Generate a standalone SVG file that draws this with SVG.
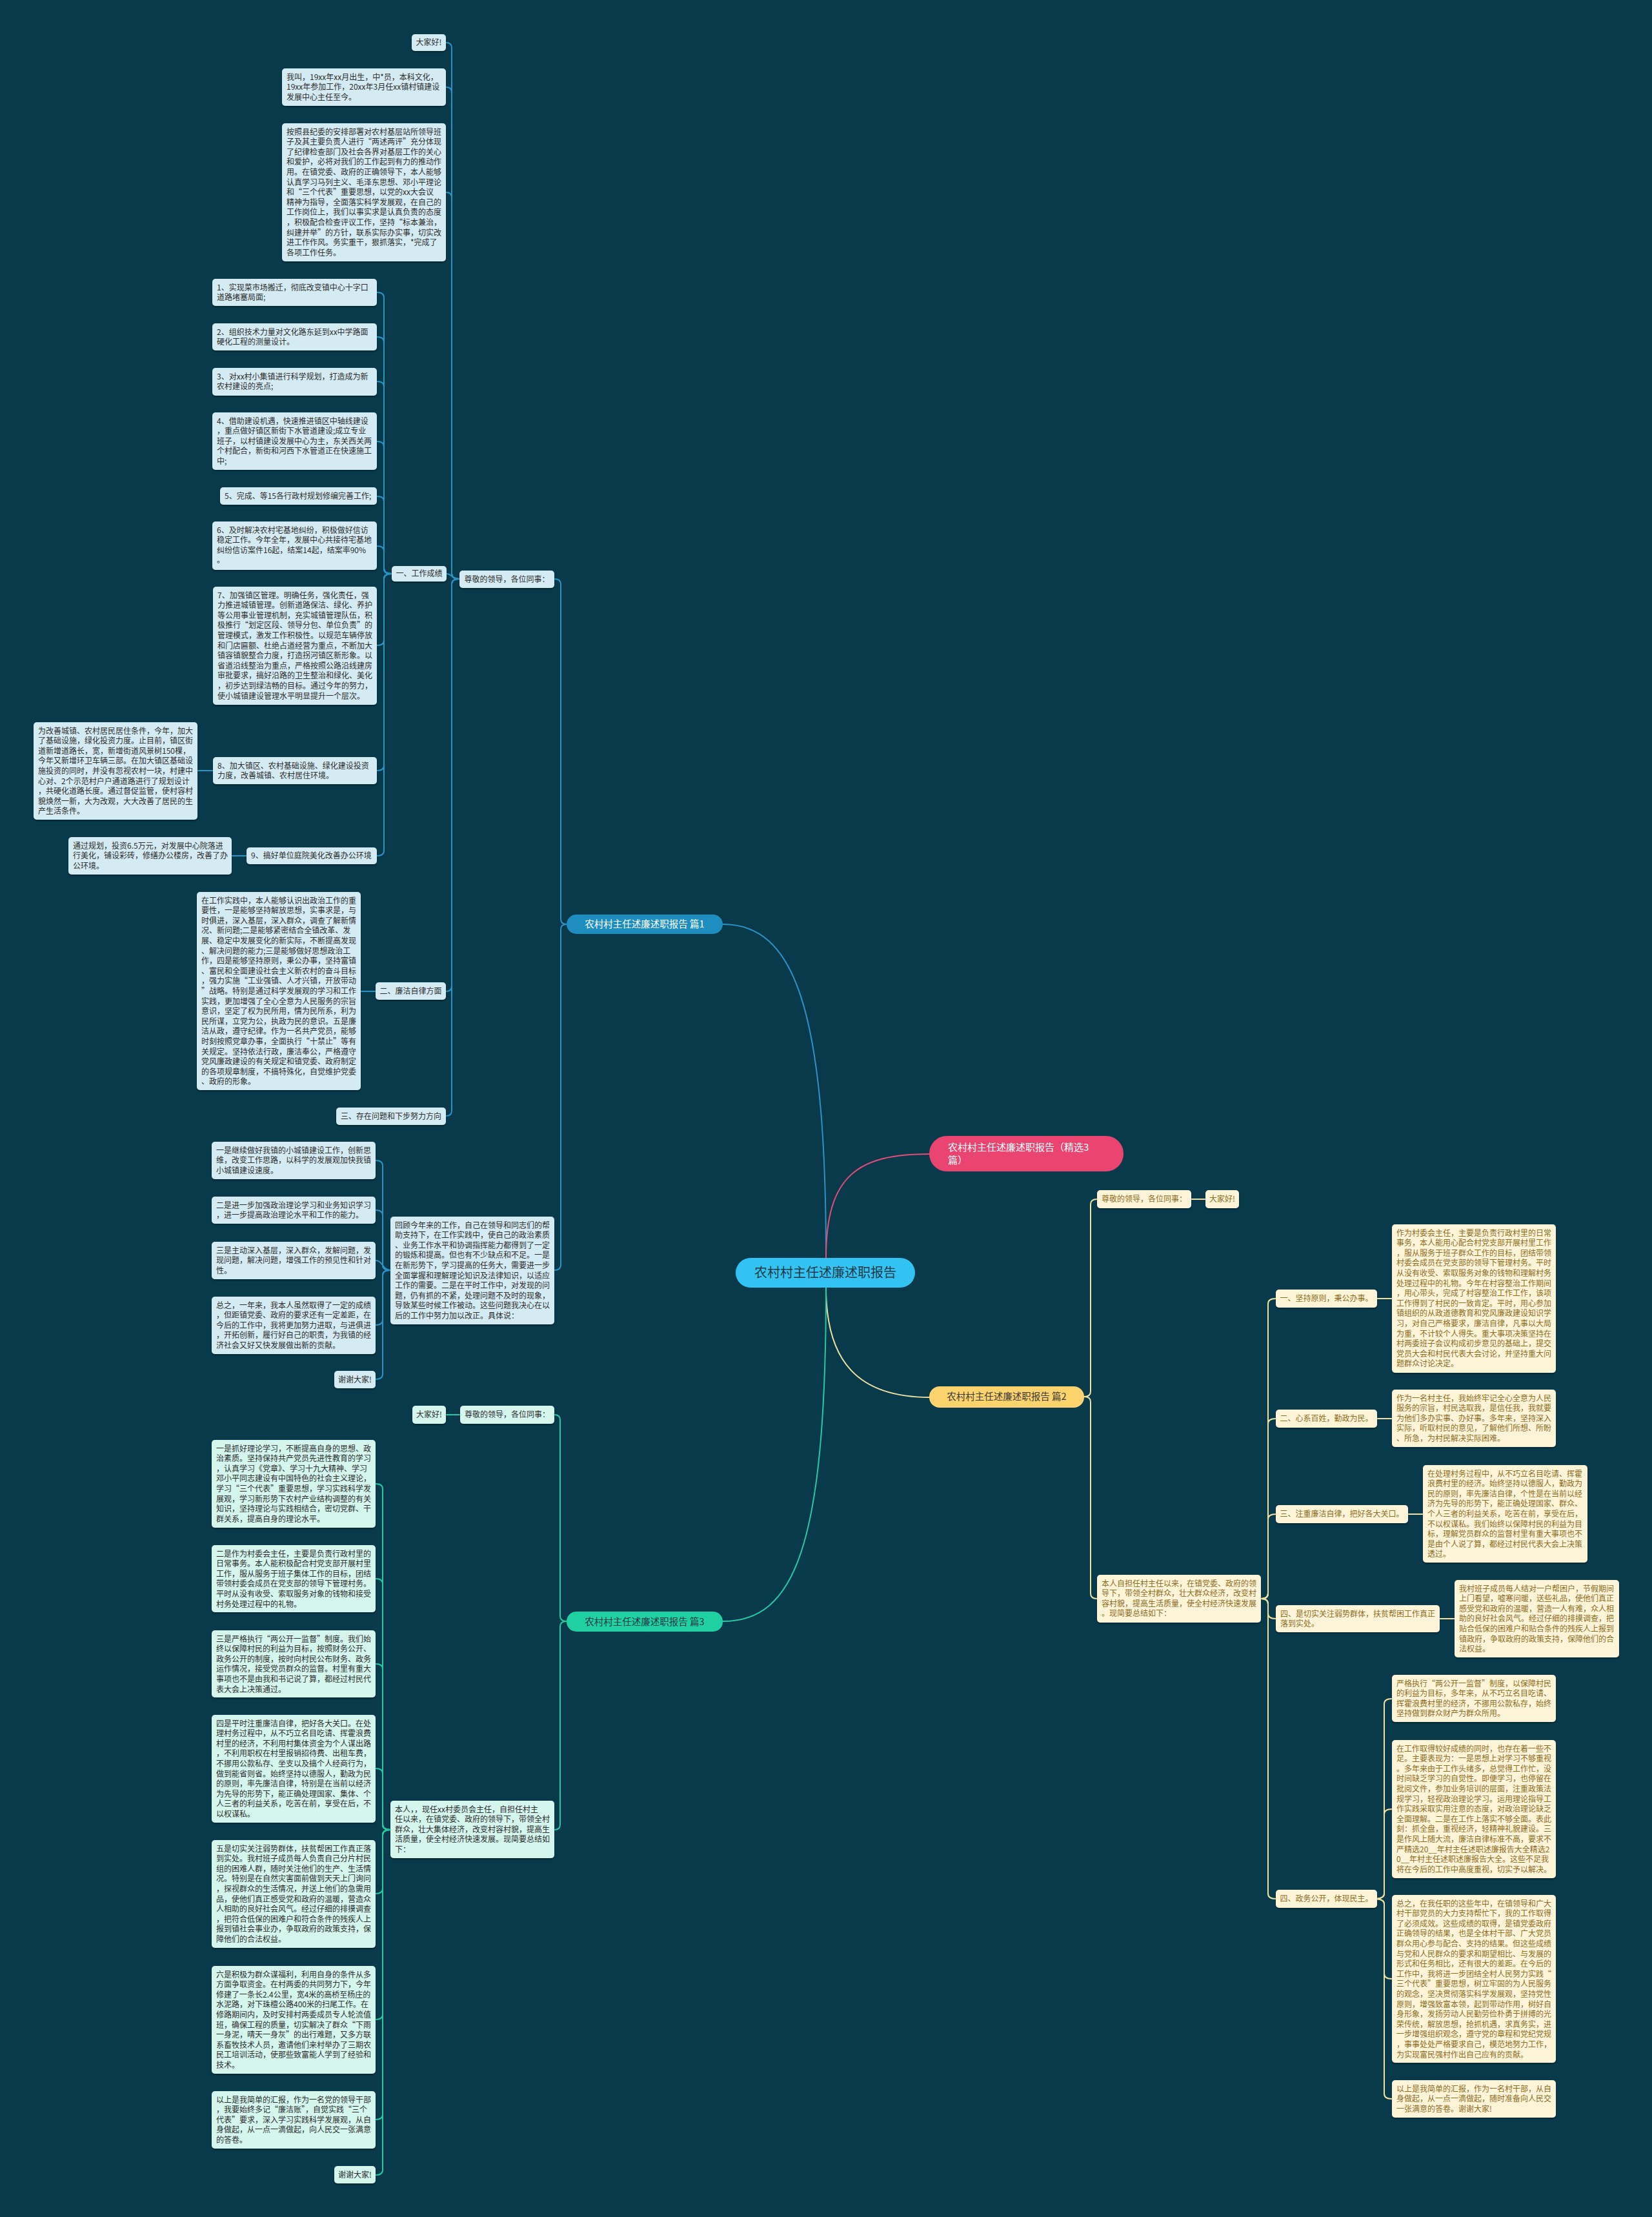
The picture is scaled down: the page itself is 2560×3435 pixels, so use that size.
<svg xmlns="http://www.w3.org/2000/svg" width="2560" height="3435" viewBox="0 0 2560 3435">
<defs>
<filter id="sh" x="-5%" y="-5%" width="110%" height="120%"><feDropShadow dx="0" dy="2" stdDeviation="1" flood-color="#000" flood-opacity="0.35"/></filter>
<style>
.r1{fill:#d5ebf3;filter:url(#sh)}
.r2{fill:#fef4d8;filter:url(#sh)}
.r3{fill:#d4f6ed;filter:url(#sh)}
text{font-family:"Noto Sans CJK SC","Noto Sans",sans-serif;font-size:12px}
.t1{fill:#2d2d2d}
.t2{fill:#8e6c1e}
.t3{fill:#2d2d2d}
.m{text-anchor:middle}
.c1{fill:none;stroke:#2a93c5;stroke-width:2}
.c2{fill:none;stroke:#efe2a0;stroke-width:2}
.c3{fill:none;stroke:#24c9a2;stroke-width:2}
.cp{fill:none;stroke:#e44d78;stroke-width:2}
</style>
</defs>
<rect x="0" y="0" width="2560" height="3435" fill="#083a4c"/>

<g id="connectors">
<path class="c1" d="M1280 1949 C1280 1560 1230 1432 1120 1432"/>
<path class="cp" d="M1280 1949 C1280 1820 1330 1788 1441 1788"/>
<path class="c2" d="M1280 1995 C1280 2110 1330 2165 1441 2165"/>
<path class="c3" d="M1280 1995 C1280 2400 1230 2512 1120 2512"/>

<path class="c1" d="M878 1432 Q869 1432 869 1424 V905 Q869 897 859 897"/>
<path class="c1" d="M878 1432 Q869 1432 869 1440 V1960 Q869 1968 859 1968"/>
<path class="c1" d="M712 897 Q700 897 700 889 V74 Q700 66 691 66"/>
<path class="c1" d="M712 897 Q700 897 700 889 V143 Q700 135 691 135"/>
<path class="c1" d="M712 897 Q700 897 700 889 V306 Q700 298 691 298"/>
<path class="c1" d="M712 897 C700 897 700 889 692 889"/>
<path class="c1" d="M712 897 Q700 897 700 905 V1528 Q700 1536 691 1536"/>
<path class="c1" d="M712 897 Q700 897 700 905 V1721 Q700 1729 691 1729"/>
<path class="c1" d="M607 889 Q595 889 595 881 V461 Q595 453 584 453"/>
<path class="c1" d="M607 889 Q595 889 595 881 V530 Q595 522 584 522"/>
<path class="c1" d="M607 889 Q595 889 595 881 V599 Q595 591 584 591"/>
<path class="c1" d="M607 889 Q595 889 595 881 V692 Q595 684 584 684"/>
<path class="c1" d="M607 889 Q595 889 595 881 V777 Q595 769 584 769"/>
<path class="c1" d="M607 889 Q595 889 595 881 V854 Q595 846 584 846"/>
<path class="c1" d="M607 889 Q595 889 595 897 V992 Q595 1000 584 1000"/>
<path class="c1" d="M607 889 Q595 889 595 897 V1186 Q595 1194 584 1194"/>
<path class="c1" d="M607 889 Q595 889 595 897 V1318 Q595 1326 584 1326"/>
<path class="c1" d="M330 1194 H306"/>
<path class="c1" d="M382 1326 H359"/>
<path class="c1" d="M582 1536 H559"/>
<path class="c1" d="M605 1968 Q593 1968 593 1960 V1806 Q593 1798 582 1798"/>
<path class="c1" d="M605 1968 Q593 1968 593 1960 V1883 Q593 1875 582 1875"/>
<path class="c1" d="M605 1968 C593 1968 593 1953 582 1953"/>
<path class="c1" d="M605 1968 Q593 1968 593 1976 V2045 Q593 2053 582 2053"/>
<path class="c1" d="M605 1968 Q593 1968 593 1976 V2129 Q593 2137 582 2137"/>

<path class="c2" d="M1680 2164 Q1690 2164 1690 2156 V1866 Q1690 1858 1700 1858"/>
<path class="c2" d="M1680 2164 Q1690 2164 1690 2172 V2469 Q1690 2477 1700 2477"/>
<path class="c2" d="M1846 1858 H1868"/>
<path class="c2" d="M1954 2477 Q1965 2477 1965 2469 V2020 Q1965 2012 1977 2012"/>
<path class="c2" d="M1954 2477 Q1965 2477 1965 2469 V2206 Q1965 2198 1977 2198"/>
<path class="c2" d="M1954 2477 Q1965 2477 1965 2469 V2354 Q1965 2346 1977 2346"/>
<path class="c2" d="M1954 2477 Q1965 2477 1965 2485 V2500 Q1965 2508 1977 2508"/>
<path class="c2" d="M1954 2477 Q1965 2477 1965 2485 V2934 Q1965 2942 1977 2942"/>
<path class="c2" d="M2134 2012 H2157"/>
<path class="c2" d="M2134 2198 H2157"/>
<path class="c2" d="M2182 2346 H2205"/>
<path class="c2" d="M2231 2508 H2254"/>
<path class="c2" d="M2129 2942 Q2145 2942 2145 2934 V2640 Q2145 2632 2157 2632"/>
<path class="c2" d="M2129 2942 Q2145 2942 2145 2934 V2811 Q2145 2803 2157 2803"/>
<path class="c2" d="M2129 2942 Q2145 2942 2145 2950 V3058 Q2145 3066 2157 3066"/>
<path class="c2" d="M2129 2942 Q2145 2942 2145 2950 V3244 Q2145 3252 2157 3252"/>

<path class="c3" d="M878 2512 Q868 2512 868 2504 V2200 Q868 2192 859 2192"/>
<path class="c3" d="M878 2512 Q868 2512 868 2520 V2827 Q868 2835 859 2835"/>
<path class="c3" d="M713 2192 H691"/>
<path class="c3" d="M605 2835 Q593 2835 593 2827 V2307 Q593 2299 582 2299"/>
<path class="c3" d="M605 2835 Q593 2835 593 2827 V2454 Q593 2446 582 2446"/>
<path class="c3" d="M605 2835 Q593 2835 593 2827 V2586 Q593 2578 582 2578"/>
<path class="c3" d="M605 2835 Q593 2835 593 2827 V2748 Q593 2740 582 2740"/>
<path class="c3" d="M605 2835 Q593 2835 593 2843 V2926 Q593 2934 582 2934"/>
<path class="c3" d="M605 2835 Q593 2835 593 2843 V3121 Q593 3129 582 3129"/>
<path class="c3" d="M605 2835 Q593 2835 593 2843 V3276 Q593 3284 582 3284"/>
<path class="c3" d="M605 2835 Q593 2835 593 2843 V3362 Q593 3370 582 3370"/>
</g>

<g id="root">
<rect x="1140" y="1949" width="278" height="46" rx="23" fill="#32c3f2"/>
<text class="m" x="1279" y="1979" style="font-size:20px;fill:#1d3a48">农村村主任述廉述职报告</text>
</g>
<g id="b0">
<rect x="1440" y="1760" width="301" height="55" rx="27" fill="#ea4470"/>
<text x="1469" y="1782.5" style="font-size:15px;fill:#ffffff"><tspan x="1469" dy="0">农村村主任述廉述职报告（精选3</tspan><tspan x="1469" dy="20">篇）</tspan></text>
</g>
<g id="b1">
<rect x="878" y="1417" width="242" height="30" rx="15" fill="#1e8ec0"/>
<text class="m" x="999" y="1437" style="font-size:14.5px;fill:#ffffff">农村村主任述廉述职报告 篇1</text>
</g>
<g id="b2">
<rect x="1440" y="2148" width="240" height="33" rx="16" fill="#fcd36c"/>
<text class="m" x="1560" y="2169" style="font-size:14.5px;fill:#3a3a3a">农村村主任述廉述职报告 篇2</text>
</g>
<g id="b3">
<rect x="878" y="2497" width="242" height="31" rx="15" fill="#1fd1a1"/>
<text class="m" x="999" y="2517.5" style="font-size:14.5px;fill:#1d3a48">农村村主任述廉述职报告 篇3</text>
</g>

<g id="n1-dajia"><rect class="r1" x="638" y="53" width="53" height="26" rx="5"/><text class="t1 m" x="664.5" y="70.3">大家好!</text></g>
<g id="n1-wojiao"><rect class="r1" x="437" y="106" width="254" height="58" rx="5"/><text class="t1" x="444" y="123.6"><tspan x="444" dy="0">我叫，19xx年xx月出生，中*员，本科文化，</tspan><tspan x="444" dy="15.6">19xx年参加工作，20xx年3月任xx镇村镇建设</tspan><tspan x="444" dy="15.6">发展中心主任至今。</tspan></text></g>
<g id="n1-anzhao"><rect class="r1" x="437" y="191" width="254" height="214" rx="5"/><text class="t1" x="444" y="208.6"><tspan x="444" dy="0">按照县纪委的安排部署对农村基层站所领导班</tspan><tspan x="444" dy="15.6">子及其主要负责人进行“两述两评”充分体现</tspan><tspan x="444" dy="15.6">了纪律检查部门及社会各界对基层工作的关心</tspan><tspan x="444" dy="15.6">和爱护，必将对我们的工作起到有力的推动作</tspan><tspan x="444" dy="15.6">用。在镇党委、政府的正确领导下，本人能够</tspan><tspan x="444" dy="15.6">认真学习马列主义、毛泽东思想、邓小平理论</tspan><tspan x="444" dy="15.6">和“三个代表”重要思想，以党的xx大会议</tspan><tspan x="444" dy="15.6">精神为指导，全面落实科学发展观，在自己的</tspan><tspan x="444" dy="15.6">工作岗位上，我们以事实求是认真负责的态度</tspan><tspan x="444" dy="15.6">，积极配合检查评议工作，坚持“标本兼治，</tspan><tspan x="444" dy="15.6">纠建并举”的方针，联系实际办实事，切实改</tspan><tspan x="444" dy="15.6">进工作作风。务实重干，狠抓落实，*完成了</tspan><tspan x="444" dy="15.6">各项工作任务。</tspan></text></g>
<g id="n1-zunjing"><rect class="r1" x="712" y="884" width="147" height="27" rx="5"/><text class="t1 m" x="785.5" y="901.8">尊敬的领导，各位同事：</text></g>
<g id="n1-yi"><rect class="r1" x="607" y="877" width="85" height="24" rx="5"/><text class="t1 m" x="649.5" y="893.3">一、工作成绩</text></g>
<g id="n1-i1"><rect class="r1" x="329" y="432" width="255" height="42" rx="5"/><text class="t1" x="336" y="449.6"><tspan x="336" dy="0">1、实现菜市场搬迁，彻底改变镇中心十字口</tspan><tspan x="336" dy="15.6">道路堵塞局面;</tspan></text></g>
<g id="n1-i2"><rect class="r1" x="329" y="501" width="255" height="42" rx="5"/><text class="t1" x="336" y="518.6"><tspan x="336" dy="0">2、组织技术力量对文化路东延到xx中学路面</tspan><tspan x="336" dy="15.6">硬化工程的测量设计。</tspan></text></g>
<g id="n1-i3"><rect class="r1" x="329" y="570" width="255" height="43" rx="5"/><text class="t1" x="336" y="587.6"><tspan x="336" dy="0">3、对xx村小集镇进行科学规划，打造成为新</tspan><tspan x="336" dy="15.6">农村建设的亮点;</tspan></text></g>
<g id="n1-i4"><rect class="r1" x="329" y="639" width="255" height="89" rx="5"/><text class="t1" x="336" y="656.6"><tspan x="336" dy="0">4、借助建设机遇，快速推进镇区中轴线建设</tspan><tspan x="336" dy="15.6">，重点做好镇区新街下水管道建设;成立专业</tspan><tspan x="336" dy="15.6">班子，以村镇建设发展中心为主，东关西关两</tspan><tspan x="336" dy="15.6">个村配合，新街和河西下水管道正在快速施工</tspan><tspan x="336" dy="15.6">中;</tspan></text></g>
<g id="n1-i5"><rect class="r1" x="341" y="755" width="243" height="27" rx="5"/><text class="t1" x="348" y="773.3">5、完成、等15各行政村规划修编完善工作;</text></g>
<g id="n1-i6"><rect class="r1" x="329" y="808" width="255" height="75" rx="5"/><text class="t1" x="336" y="825.6"><tspan x="336" dy="0">6、及时解决农村宅基地纠纷，积极做好信访</tspan><tspan x="336" dy="15.6">稳定工作。今年全年，发展中心共接待宅基地</tspan><tspan x="336" dy="15.6">纠纷信访案件16起，结案14起，结案率90%</tspan><tspan x="336" dy="15.6">。</tspan></text></g>
<g id="n1-i7"><rect class="r1" x="330" y="909" width="254" height="183" rx="5"/><text class="t1" x="337" y="926.6"><tspan x="337" dy="0">7、加强镇区管理。明确任务，强化责任，强</tspan><tspan x="337" dy="15.6">力推进城镇管理。创新道路保洁、绿化、养护</tspan><tspan x="337" dy="15.6">等公用事业管理机制，充实城镇管理队伍，积</tspan><tspan x="337" dy="15.6">极推行“划定区段、领导分包、单位负责”的</tspan><tspan x="337" dy="15.6">管理模式，激发工作积极性。以规范车辆停放</tspan><tspan x="337" dy="15.6">和门店匾额、杜绝占道经营为重点，不断加大</tspan><tspan x="337" dy="15.6">镇容镇貌整合力度，打造拐河镇区新形象。以</tspan><tspan x="337" dy="15.6">省道沿线整治为重点，严格按照公路沿线建房</tspan><tspan x="337" dy="15.6">审批要求，搞好沿路的卫生整治和绿化、美化</tspan><tspan x="337" dy="15.6">，初步达到绿洁畅的目标。通过今年的努力，</tspan><tspan x="337" dy="15.6">使小城镇建设管理水平明显提升一个层次。</tspan></text></g>
<g id="n1-i8"><rect class="r1" x="330" y="1173" width="254" height="42" rx="5"/><text class="t1" x="337" y="1190.6"><tspan x="337" dy="0">8、加大镇区、农村基础设施、绿化建设投资</tspan><tspan x="337" dy="15.6">力度，改善城镇、农村居住环境。</tspan></text></g>
<g id="n1-i8d"><rect class="r1" x="52" y="1119" width="254" height="151" rx="5"/><text class="t1" x="59" y="1136.6"><tspan x="59" dy="0">为改善城镇、农村居民居住条件，今年，加大</tspan><tspan x="59" dy="15.6">了基础设施，绿化投资力度。止目前，镇区街</tspan><tspan x="59" dy="15.6">道新增道路长，宽，新增街道风景树150棵，</tspan><tspan x="59" dy="15.6">今年又新增环卫车辆三部。在加大镇区基础设</tspan><tspan x="59" dy="15.6">施投资的同时，并没有忽视农村一块，村建中</tspan><tspan x="59" dy="15.6">心对、2个示范村户户通道路进行了规划设计</tspan><tspan x="59" dy="15.6">，共硬化道路长度。通过督促监管，使村容村</tspan><tspan x="59" dy="15.6">貌焕然一新，大为改观，大大改善了居民的生</tspan><tspan x="59" dy="15.6">产生活条件。</tspan></text></g>
<g id="n1-i9"><rect class="r1" x="382" y="1313" width="202" height="26" rx="5"/><text class="t1" x="389" y="1330.3">9、搞好单位庭院美化改善办公环境</text></g>
<g id="n1-i9d"><rect class="r1" x="106" y="1297" width="253" height="58" rx="5"/><text class="t1" x="113" y="1314.6"><tspan x="113" dy="0">通过规划，投资6.5万元，对发展中心院落进</tspan><tspan x="113" dy="15.6">行美化，铺设彩砖，修缮办公楼房，改善了办</tspan><tspan x="113" dy="15.6">公环境。</tspan></text></g>
<g id="n1-er"><rect class="r1" x="582" y="1522" width="109" height="27" rx="5"/><text class="t1 m" x="636.5" y="1539.8">二、廉洁自律方面</text></g>
<g id="n1-erd"><rect class="r1" x="305" y="1382" width="254" height="307" rx="5"/><text class="t1" x="312" y="1399.6"><tspan x="312" dy="0">在工作实践中，本人能够认识出政治工作的重</tspan><tspan x="312" dy="15.6">要性，一是能够坚持解放思想，实事求是，与</tspan><tspan x="312" dy="15.6">时俱进，深入基层，深入群众，调查了解新情</tspan><tspan x="312" dy="15.6">况、新问题;二是能够紧密结合全镇改革、发</tspan><tspan x="312" dy="15.6">展、稳定中发展变化的新实际，不断提高发现</tspan><tspan x="312" dy="15.6">、解决问题的能力;三是能够做好思想政治工</tspan><tspan x="312" dy="15.6">作，四是能够坚持原则，秉公办事，坚持富镇</tspan><tspan x="312" dy="15.6">、富民和全面建设社会主义新农村的奋斗目标</tspan><tspan x="312" dy="15.6">，强力实施“工业强镇、人才兴镇，开放带动</tspan><tspan x="312" dy="15.6">”战略。特别是通过科学发展观的学习和工作</tspan><tspan x="312" dy="15.6">实践，更加增强了全心全意为人民服务的宗旨</tspan><tspan x="312" dy="15.6">意识，坚定了权为民所用，情为民所系，利为</tspan><tspan x="312" dy="15.6">民所谋，立党为公，执政为民的意识。五是廉</tspan><tspan x="312" dy="15.6">洁从政，遵守纪律。作为一名共产党员，能够</tspan><tspan x="312" dy="15.6">时刻按照党章办事，全面执行“十禁止”等有</tspan><tspan x="312" dy="15.6">关规定。坚持依法行政，廉洁奉公，严格遵守</tspan><tspan x="312" dy="15.6">党风廉政建设的有关规定和镇党委、政府制定</tspan><tspan x="312" dy="15.6">的各项规章制度，不搞特殊化，自觉维护党委</tspan><tspan x="312" dy="15.6">、政府的形象。</tspan></text></g>
<g id="n1-san"><rect class="r1" x="521" y="1716" width="170" height="27" rx="5"/><text class="t1 m" x="606" y="1733.8">三、存在问题和下步努力方向</text></g>
<g id="n1-huigu"><rect class="r1" x="605" y="1885" width="254" height="167" rx="5"/><text class="t1" x="612" y="1902.6"><tspan x="612" dy="0">回顾今年来的工作，自己在领导和同志们的帮</tspan><tspan x="612" dy="15.6">助支持下，在工作实践中，使自己的政治素质</tspan><tspan x="612" dy="15.6">、业务工作水平和协调指挥能力都得到了一定</tspan><tspan x="612" dy="15.6">的锻炼和提高。但也有不少缺点和不足。一是</tspan><tspan x="612" dy="15.6">在新形势下，学习提高的任务大，需要进一步</tspan><tspan x="612" dy="15.6">全面掌握和理解理论知识及法律知识，以适应</tspan><tspan x="612" dy="15.6">工作的需要。二是在平时工作中，对发现的问</tspan><tspan x="612" dy="15.6">题，仍有抓的不紧，处理问题不及时的现象，</tspan><tspan x="612" dy="15.6">导致某些时候工作被动。这些问题我决心在以</tspan><tspan x="612" dy="15.6">后的工作中努力加以改正。具体说：</tspan></text></g>
<g id="n1-h1"><rect class="r1" x="328" y="1769" width="254" height="58" rx="5"/><text class="t1" x="335" y="1786.6"><tspan x="335" dy="0">一是继续做好我镇的小城镇建设工作，创新思</tspan><tspan x="335" dy="15.6">维，改变工作思路，以科学的发展观加快我镇</tspan><tspan x="335" dy="15.6">小城镇建设速度。</tspan></text></g>
<g id="n1-h2"><rect class="r1" x="328" y="1854" width="254" height="42" rx="5"/><text class="t1" x="335" y="1871.6"><tspan x="335" dy="0">二是进一步加强政治理论学习和业务知识学习</tspan><tspan x="335" dy="15.6">，进一步提高政治理论水平和工作的能力。</tspan></text></g>
<g id="n1-h3"><rect class="r1" x="328" y="1924" width="254" height="58" rx="5"/><text class="t1" x="335" y="1941.6"><tspan x="335" dy="0">三是主动深入基层，深入群众，发解问题，发</tspan><tspan x="335" dy="15.6">现问题，解决问题，增强工作的预见性和针对</tspan><tspan x="335" dy="15.6">性。</tspan></text></g>
<g id="n1-h4"><rect class="r1" x="328" y="2009" width="254" height="89" rx="5"/><text class="t1" x="335" y="2026.6"><tspan x="335" dy="0">总之，一年来，我本人虽然取得了一定的成绩</tspan><tspan x="335" dy="15.6">，但距镇党委、政府的要求还有一定差距，在</tspan><tspan x="335" dy="15.6">今后的工作中，我将更加努力进取，与进俱进</tspan><tspan x="335" dy="15.6">，开拓创新，履行好自己的职责，为我镇的经</tspan><tspan x="335" dy="15.6">济社会又好又快发展做出新的贡献。</tspan></text></g>
<g id="n1-h5"><rect class="r1" x="518" y="2124" width="64" height="27" rx="5"/><text class="t1 m" x="550" y="2141.8">谢谢大家!</text></g>

<g id="n2-zunjing"><rect class="r2" x="1700" y="1844" width="146" height="28" rx="5"/><text class="t2 m" x="1773" y="1862.3">尊敬的领导，各位同事：</text></g>
<g id="n2-dajia"><rect class="r2" x="1868" y="1844" width="52" height="28" rx="5"/><text class="t2 m" x="1894" y="1862.3">大家好!</text></g>
<g id="n2-benren"><rect class="r2" x="1700" y="2440" width="254" height="74" rx="5"/><text class="t2" x="1707" y="2457.6"><tspan x="1707" dy="0">本人自担任村主任以来，在镇党委、政府的领</tspan><tspan x="1707" dy="15.6">导下，带领全村群众，壮大群众经济，改变村</tspan><tspan x="1707" dy="15.6">容村貌，提高生活质量，使全村经济快速发展</tspan><tspan x="1707" dy="15.6">。现简要总结如下：</tspan></text></g>
<g id="n2-1"><rect class="r2" x="1977" y="1998" width="157" height="28" rx="5"/><text class="t2 m" x="2055.5" y="2016.3">一、坚持原则，秉公办事。</text></g>
<g id="n2-1d"><rect class="r2" x="2157" y="1897" width="254" height="230" rx="5"/><text class="t2" x="2164" y="1914.6"><tspan x="2164" dy="0">作为村委会主任，主要是负责行政村里的日常</tspan><tspan x="2164" dy="15.6">事务，本人能用心配合村党支部开展村里工作</tspan><tspan x="2164" dy="15.6">，服从服务于班子群众工作的目标，团结带领</tspan><tspan x="2164" dy="15.6">村委会成员在党支部的领导下管理村务。平时</tspan><tspan x="2164" dy="15.6">从没有收受、索取服务对象的钱物和理解村务</tspan><tspan x="2164" dy="15.6">处理过程中的礼物。今年在村容整治工作期间</tspan><tspan x="2164" dy="15.6">，用心带头，完成了村容整治工作工作，该项</tspan><tspan x="2164" dy="15.6">工作得到了村民的一致肯定。平时，用心参加</tspan><tspan x="2164" dy="15.6">镇组织的从政道德教育和党风廉政建设知识学</tspan><tspan x="2164" dy="15.6">习，对自己严格要求，廉洁自律，凡事以大局</tspan><tspan x="2164" dy="15.6">为重，不计较个人得失。重大事项决策坚持在</tspan><tspan x="2164" dy="15.6">村两委班子会议构成初步意见的基础上，提交</tspan><tspan x="2164" dy="15.6">党员大会和村民代表大会讨论，并坚持重大问</tspan><tspan x="2164" dy="15.6">题群众讨论决定。</tspan></text></g>
<g id="n2-2"><rect class="r2" x="1977" y="2184" width="157" height="28" rx="5"/><text class="t2 m" x="2055.5" y="2202.3">二、心系百姓，勤政为民。</text></g>
<g id="n2-2d"><rect class="r2" x="2157" y="2153" width="254" height="89" rx="5"/><text class="t2" x="2164" y="2170.6"><tspan x="2164" dy="0">作为一名村主任，我始终牢记全心全意为人民</tspan><tspan x="2164" dy="15.6">服务的宗旨，村民选取我，是信任我，我就要</tspan><tspan x="2164" dy="15.6">为他们多办实事、办好事。多年来，坚持深入</tspan><tspan x="2164" dy="15.6">实际，听取村民的意见，了解他们所想、所盼</tspan><tspan x="2164" dy="15.6">、所急，为村民解决实际困难。</tspan></text></g>
<g id="n2-3"><rect class="r2" x="1977" y="2332" width="205" height="28" rx="5"/><text class="t2 m" x="2079.5" y="2350.3">三、注重廉洁自律，把好各大关口。</text></g>
<g id="n2-3d"><rect class="r2" x="2205" y="2270" width="255" height="151" rx="5"/><text class="t2" x="2212" y="2287.6"><tspan x="2212" dy="0">在处理村务过程中，从不巧立名目吃请、挥霍</tspan><tspan x="2212" dy="15.6">浪费村里的经济。始终坚持以德服人，勤政为</tspan><tspan x="2212" dy="15.6">民的原则，率先廉洁自律，个性是在当前以经</tspan><tspan x="2212" dy="15.6">济为先导的形势下，能正确处理国家、群众、</tspan><tspan x="2212" dy="15.6">个人三者的利益关系，吃苦在前，享受在后，</tspan><tspan x="2212" dy="15.6">不以权谋私。我们始终以保障村民的利益为目</tspan><tspan x="2212" dy="15.6">标，理解党员群众的监督村里有重大事项也不</tspan><tspan x="2212" dy="15.6">是由个人说了算，都经过村民代表大会上决策</tspan><tspan x="2212" dy="15.6">透过。</tspan></text></g>
<g id="n2-4"><rect class="r2" x="1977" y="2487" width="254" height="42" rx="5"/><text class="t2" x="1984" y="2504.6"><tspan x="1984" dy="0">四、是切实关注弱势群体，扶贫帮困工作真正</tspan><tspan x="1984" dy="15.6">落到实处。</tspan></text></g>
<g id="n2-4d"><rect class="r2" x="2254" y="2448" width="255" height="120" rx="5"/><text class="t2" x="2261" y="2465.6"><tspan x="2261" dy="0">我村班子成员每人结对一户帮困户，节假期间</tspan><tspan x="2261" dy="15.6">上门看望，嘘寒问暖，送些礼品，使他们真正</tspan><tspan x="2261" dy="15.6">感受党和政府的温暖，营造一人有难，众人相</tspan><tspan x="2261" dy="15.6">助的良好社会风气。经过仔细的排摸调查，把</tspan><tspan x="2261" dy="15.6">贴合低保的困难户和贴合条件的残疾人上报到</tspan><tspan x="2261" dy="15.6">镇政府，争取政府的政策支持，保障他们的合</tspan><tspan x="2261" dy="15.6">法权益。</tspan></text></g>
<g id="n2-5"><rect class="r2" x="1977" y="2928" width="157" height="28" rx="5"/><text class="t2 m" x="2055.5" y="2946.3">四、政务公开，体现民主。</text></g>
<g id="n2-5a"><rect class="r2" x="2157" y="2595" width="254" height="73" rx="5"/><text class="t2" x="2164" y="2612.6"><tspan x="2164" dy="0">严格执行“两公开一监督”制度，以保障村民</tspan><tspan x="2164" dy="15.6">的利益为目标，多年来，从不巧立名目吃请、</tspan><tspan x="2164" dy="15.6">挥霍浪费村里的经济，不挪用公款私存，始终</tspan><tspan x="2164" dy="15.6">坚持做到群众财产为群众所用。</tspan></text></g>
<g id="n2-5b"><rect class="r2" x="2157" y="2696" width="254" height="214" rx="5"/><text class="t2" x="2164" y="2713.6"><tspan x="2164" dy="0">在工作取得较好成绩的同时，也存在着一些不</tspan><tspan x="2164" dy="15.6">足。主要表现为：一是思想上对学习不够重视</tspan><tspan x="2164" dy="15.6">。多年来由于工作头绪多，总觉得工作忙，没</tspan><tspan x="2164" dy="15.6">时间缺乏学习的自觉性。即便学习，也停留在</tspan><tspan x="2164" dy="15.6">批阅文件，参加业务培训的层面，注重政策法</tspan><tspan x="2164" dy="15.6">规学习，轻视政治理论学习。运用理论指导工</tspan><tspan x="2164" dy="15.6">作实践采取实用注意的态度，对政治理论缺乏</tspan><tspan x="2164" dy="15.6">全面理解。二是在工作上落实不够全面。表此</tspan><tspan x="2164" dy="15.6">刻：抓全盘，重视经济，轻精神礼貌建设。三</tspan><tspan x="2164" dy="15.6">是作风上随大流，廉洁自律标准不高，要求不</tspan><tspan x="2164" dy="15.6">严精选20__年村主任述职述廉报告大全精选2</tspan><tspan x="2164" dy="15.6">0__年村主任述职述廉报告大全。这些不足我</tspan><tspan x="2164" dy="15.6">将在今后的工作中高度重视，切实予以解决。</tspan></text></g>
<g id="n2-5c"><rect class="r2" x="2157" y="2936" width="254" height="260" rx="5"/><text class="t2" x="2164" y="2953.6"><tspan x="2164" dy="0">总之，在我任职的这些年中，在镇领导和广大</tspan><tspan x="2164" dy="15.6">村干部党员的大力支持帮忙下，我的工作取得</tspan><tspan x="2164" dy="15.6">了必须成效。这些成绩的取得，是镇党委政府</tspan><tspan x="2164" dy="15.6">正确领导的结果，也是全体村干部、广大党员</tspan><tspan x="2164" dy="15.6">群众用心参与配合、支持的结果。但这些成绩</tspan><tspan x="2164" dy="15.6">与党和人民群众的要求和期望相比、与发展的</tspan><tspan x="2164" dy="15.6">形式和任务相比，还有很大的差距。在今后的</tspan><tspan x="2164" dy="15.6">工作中，我将进一步团结全村人民努力实践“</tspan><tspan x="2164" dy="15.6">三个代表”重要思想，树立牢固的为人民服务</tspan><tspan x="2164" dy="15.6">的观念，坚决贯彻落实科学发展观，坚持党性</tspan><tspan x="2164" dy="15.6">原则，增强致富本领，起到带动作用，树好自</tspan><tspan x="2164" dy="15.6">身形象，发扬劳动人民勤劳俭朴勇于拼搏的光</tspan><tspan x="2164" dy="15.6">荣传统，解放思想，抢抓机遇，求真务实，进</tspan><tspan x="2164" dy="15.6">一步增强组织观念，遵守党的章程和党纪党规</tspan><tspan x="2164" dy="15.6">，事事处处严格要求自己，模范地努力工作，</tspan><tspan x="2164" dy="15.6">为实现富民强村作出自己应有的贡献。</tspan></text></g>
<g id="n2-5d"><rect class="r2" x="2157" y="3223" width="254" height="58" rx="5"/><text class="t2" x="2164" y="3240.6"><tspan x="2164" dy="0">以上是我简单的汇报，作为一名村干部，从自</tspan><tspan x="2164" dy="15.6">身做起，从一点一滴做起，随时准备向人民交</tspan><tspan x="2164" dy="15.6">一张满意的答卷。谢谢大家!</tspan></text></g>

<g id="n3-dajia"><rect class="r3" x="639" y="2178" width="52" height="28" rx="5"/><text class="t3 m" x="665" y="2196.3">大家好!</text></g>
<g id="n3-zunjing"><rect class="r3" x="713" y="2178" width="146" height="28" rx="5"/><text class="t3 m" x="786" y="2196.3">尊敬的领导，各位同事：</text></g>
<g id="n3-benren"><rect class="r3" x="605" y="2790" width="254" height="89" rx="5"/><text class="t3" x="612" y="2807.6"><tspan x="612" dy="0">本人，，现任xx村委员会主任，自担任村主</tspan><tspan x="612" dy="15.6">任以来，在镇党委、政府的领导下，带领全村</tspan><tspan x="612" dy="15.6">群众，壮大集体经济，改变村容村貌，提高生</tspan><tspan x="612" dy="15.6">活质量，使全村经济快速发展。现简要总结如</tspan><tspan x="612" dy="15.6">下：</tspan></text></g>
<g id="n3-1"><rect class="r3" x="328" y="2231" width="254" height="136" rx="5"/><text class="t3" x="335" y="2248.6"><tspan x="335" dy="0">一是抓好理论学习，不断提高自身的思想、政</tspan><tspan x="335" dy="15.6">治素质。坚持保持共产党员先进性教育的学习</tspan><tspan x="335" dy="15.6">，认真学习《党章》、学习十九大精神、学习</tspan><tspan x="335" dy="15.6">邓小平同志建设有中国特色的社会主义理论，</tspan><tspan x="335" dy="15.6">学习“三个代表”重要思想，学习实践科学发</tspan><tspan x="335" dy="15.6">展观，学习新形势下农村产业结构调整的有关</tspan><tspan x="335" dy="15.6">知识，坚持理论与实践相结合，密切党群、干</tspan><tspan x="335" dy="15.6">群关系，提高自身的理论水平。</tspan></text></g>
<g id="n3-2"><rect class="r3" x="328" y="2394" width="254" height="104" rx="5"/><text class="t3" x="335" y="2411.6"><tspan x="335" dy="0">二是作为村委会主任，主要是负责行政村里的</tspan><tspan x="335" dy="15.6">日常事务。本人能积极配合村党支部开展村里</tspan><tspan x="335" dy="15.6">工作，服从服务于班子集体工作的目标，团结</tspan><tspan x="335" dy="15.6">带领村委会成员在党支部的领导下管理村务。</tspan><tspan x="335" dy="15.6">平时从没有收受、索取服务对象的钱物和接受</tspan><tspan x="335" dy="15.6">村务处理过程中的礼物。</tspan></text></g>
<g id="n3-3"><rect class="r3" x="328" y="2526" width="254" height="104" rx="5"/><text class="t3" x="335" y="2543.6"><tspan x="335" dy="0">三是严格执行“两公开一监督”制度。我们始</tspan><tspan x="335" dy="15.6">终以保障村民的利益为目标，按照财务公开、</tspan><tspan x="335" dy="15.6">政务公开的制度，按时向村民公布财务、政务</tspan><tspan x="335" dy="15.6">运作情况，接受党员群众的监督。村里有重大</tspan><tspan x="335" dy="15.6">事项也不是由我和书记说了算，都经过村民代</tspan><tspan x="335" dy="15.6">表大会上决策通过。</tspan></text></g>
<g id="n3-4"><rect class="r3" x="328" y="2657" width="254" height="167" rx="5"/><text class="t3" x="335" y="2674.6"><tspan x="335" dy="0">四是平时注重廉洁自律，把好各大关口。在处</tspan><tspan x="335" dy="15.6">理村务过程中，从不巧立名目吃请、挥霍浪费</tspan><tspan x="335" dy="15.6">村里的经济，不利用村集体资金为个人谋出路</tspan><tspan x="335" dy="15.6">，不利用职权在村里报销招待费、出租车费，</tspan><tspan x="335" dy="15.6">不挪用公款私存、坐支以及搞个人经商行为，</tspan><tspan x="335" dy="15.6">做到能省则省。始终坚持以德服人，勤政为民</tspan><tspan x="335" dy="15.6">的原则，率先廉洁自律，特别是在当前以经济</tspan><tspan x="335" dy="15.6">为先导的形势下，能正确处理国家、集体、个</tspan><tspan x="335" dy="15.6">人三者的利益关系，吃苦在前，享受在后，不</tspan><tspan x="335" dy="15.6">以权谋私。</tspan></text></g>
<g id="n3-5"><rect class="r3" x="328" y="2851" width="254" height="167" rx="5"/><text class="t3" x="335" y="2868.6"><tspan x="335" dy="0">五是切实关注弱势群体，扶贫帮困工作真正落</tspan><tspan x="335" dy="15.6">到实处。我村班子成员每人负责自己分片村民</tspan><tspan x="335" dy="15.6">组的困难人群，随时关注他们的生产、生活情</tspan><tspan x="335" dy="15.6">况。特别是在自然灾害面前做到天天上门询问</tspan><tspan x="335" dy="15.6">，探视群众的生活情况，并送上他们的急需用</tspan><tspan x="335" dy="15.6">品，使他们真正感受党和政府的温暖，营造众</tspan><tspan x="335" dy="15.6">人相助的良好社会风气。经过仔细的排摸调查</tspan><tspan x="335" dy="15.6">，把符合低保的困难户和符合条件的残疾人上</tspan><tspan x="335" dy="15.6">报到镇社会事业办，争取政府的政策支持，保</tspan><tspan x="335" dy="15.6">障他们的合法权益。</tspan></text></g>
<g id="n3-6"><rect class="r3" x="328" y="3046" width="254" height="167" rx="5"/><text class="t3" x="335" y="3063.6"><tspan x="335" dy="0">六是积极为群众谋福利，利用自身的条件从多</tspan><tspan x="335" dy="15.6">方面争取资金。在村两委的共同努力下，今年</tspan><tspan x="335" dy="15.6">修建了一条长2.4公里，宽4米的高桥至杨庄的</tspan><tspan x="335" dy="15.6">水泥路，对下珠檀公路400米的扫尾工作。在</tspan><tspan x="335" dy="15.6">修路期间内，及时安排村两委成员专人轮流值</tspan><tspan x="335" dy="15.6">班，确保工程的质量，切实解决了群众“下雨</tspan><tspan x="335" dy="15.6">一身泥，晴天一身灰”的出行难题，又多方联</tspan><tspan x="335" dy="15.6">系畜牧技术人员，邀请他们来村举办了三期农</tspan><tspan x="335" dy="15.6">民工培训活动，使那些致富能人学到了经验和</tspan><tspan x="335" dy="15.6">技术。</tspan></text></g>
<g id="n3-7"><rect class="r3" x="328" y="3240" width="254" height="89" rx="5"/><text class="t3" x="335" y="3257.6"><tspan x="335" dy="0">以上是我简单的汇报，作为一名党的领导干部</tspan><tspan x="335" dy="15.6">，我要始终多记“廉洁账”，自觉实践“三个</tspan><tspan x="335" dy="15.6">代表”要求，深入学习实践科学发展观，从自</tspan><tspan x="335" dy="15.6">身做起，从一点一滴做起，向人民交一张满意</tspan><tspan x="335" dy="15.6">的答卷。</tspan></text></g>
<g id="n3-8"><rect class="r3" x="518" y="3356" width="64" height="27" rx="5"/><text class="t3 m" x="550" y="3373.8">谢谢大家!</text></g>
</svg>
